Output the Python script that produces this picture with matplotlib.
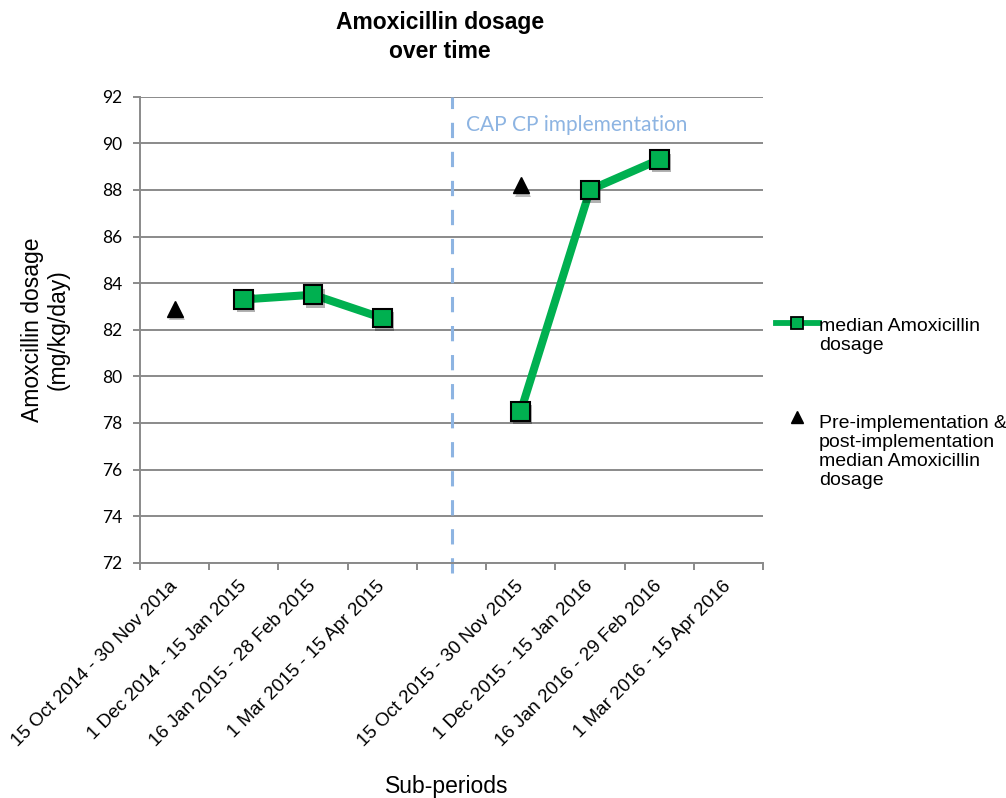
import numpy as np
import matplotlib
matplotlib.use("Agg")
import matplotlib.pyplot as plt
from matplotlib.lines import Line2D
from matplotlib.ticker import FixedLocator, NullFormatter
import matplotlib.patheffects as pe

# ---- data -------------------------------------------------------------
periods = [
    "15 Oct 2014 - 30 Nov 201a",
    "1 Dec 2014 - 15 Jan 2015",
    "16 Jan 2015 - 28 Feb 2015",
    "1 Mar 2015 - 15 Apr 2015",
    "",
    "15 Oct 2015 - 30 Nov 2015",
    "1 Dec 2015 - 15 Jan 2016",
    "16 Jan 2016 - 29 Feb 2016",
    "1 Mar 2016 - 15 Apr 2016",
]
median_dosage = [np.nan, 83.3, 83.5, 82.5, np.nan, 78.5, 88.0, 89.3, np.nan]
pre_post_median = [82.9, np.nan, np.nan, np.nan, np.nan, 88.2, np.nan, np.nan, np.nan]
implementation_index = 4
y_ticks = [72, 74, 76, 78, 80, 82, 84, 86, 88, 90, 92]

# ---- styling ----------------------------------------------------------
GREEN = "#00b050"
GRID = "#8a8a8a"
BLUE = "#8db4e2"
SANS = ["Liberation Sans", "DejaVu Sans"]
plt.rcParams["font.family"] = SANS

W, H = 1006, 798
fig = plt.figure(figsize=(W / 100, H / 100), dpi=100)
ax = fig.add_axes([140 / W, 1 - 562.7 / H, 623 / W, 466 / H])

x = np.arange(len(periods))

# median line with square markers
ax.plot(x, median_dosage, color=GREEN, lw=5.8, zorder=3, solid_capstyle="butt")
ax.plot(x, median_dosage, ls="none", marker="s", ms=13.5, mfc=GREEN, mec="black",
        mew=1.5, zorder=4,
        path_effects=[pe.SimplePatchShadow(offset=(1.5, -2.5), alpha=0.3, shadow_rgbFace="black"),
                      pe.Normal()])

# pre/post-implementation medians
ax.plot(x, pre_post_median, ls="none", marker="^", ms=11.5, color="black", zorder=4,
        path_effects=[pe.SimplePatchShadow(offset=(1.5, -2.5), alpha=0.25, shadow_rgbFace="black"),
                      pe.Normal()])

# implementation marker
ax.axvline(implementation_index, ymin=-0.023, ymax=1, color=BLUE, lw=2.2,
           ls=(0, (5.0, 4.5)), clip_on=False, zorder=2)
ax.text(implementation_index + 0.21, 90.8, "CAP CP implementation", color=BLUE,
        family=["Lato", "DejaVu Sans"], fontsize=15, ha="left", va="center")

# axes
ax.set_xlim(-0.5, len(periods) - 0.5)
ax.set_ylim(72, 92)
ax.set_yticks(y_ticks)
ax.yaxis.grid(True, color=GRID, lw=1.4, zorder=0)
ax.set_axisbelow(True)
for side in ("top", "right"):
    ax.spines[side].set_visible(False)
for side in ("left", "bottom"):
    ax.spines[side].set_color(GRID)
    ax.spines[side].set_linewidth(1.4)

ax.tick_params(axis="y", length=5, width=1.4, color=GRID, pad=8, labelsize=12.5)
for lab in ax.get_yticklabels():
    lab.set_family(["Lato", "DejaVu Sans"])

ax.set_xticks(x)
ax.set_xticklabels(periods, rotation=45, ha="right", va="center",
                   rotation_mode="anchor", fontsize=13.6)
ax.tick_params(axis="x", which="major", length=0, pad=15)
ax.xaxis.set_minor_locator(FixedLocator(np.arange(-0.5, len(periods), 1.0)))
ax.xaxis.set_minor_formatter(NullFormatter())
ax.tick_params(axis="x", which="minor", length=5, width=1.4, color=GRID)

ax.set_ylabel("Amoxcillin dosage\n(mg/kg/day)", fontsize=16.5, va="center",
              linespacing=1.15)
ax.yaxis.set_label_coords((45 - 140) / 623, 0.5)

fig.text(446.5 / W, 1 - 786 / H, "Sub-periods", fontsize=16.5, ha="center", va="center")
fig.text(440 / W, 1 - 37 / H, "Amoxicillin dosage\nover time", fontsize=16.5,
         fontweight="bold", ha="center", va="center", linespacing=1.3)

# legend, drawn beside the plot
fig.add_artist(Line2D([776 / W, 819 / W], [1 - 323 / H, 1 - 323 / H], color=GREEN,
                      lw=4.2, transform=fig.transFigure))
fig.add_artist(Line2D([797 / W], [1 - 323 / H], ls="none", marker="s", ms=8.5,
                      mfc=GREEN, mec="black", mew=1.3, transform=fig.transFigure))
fig.text(819 / W, 1 - 336 / H, "median Amoxicillin\ndosage", fontsize=14,
         ha="left", va="center", linespacing=1.15)
fig.add_artist(Line2D([797 / W], [1 - 417 / H], ls="none", marker="^", ms=8,
                      color="black", transform=fig.transFigure))
fig.text(819 / W, 1 - 452 / H,
         "Pre-implementation &\npost-implementation\nmedian Amoxicillin\ndosage",
         fontsize=14, ha="left", va="center", linespacing=1.15)

fig.savefig("out.png", dpi=100)
